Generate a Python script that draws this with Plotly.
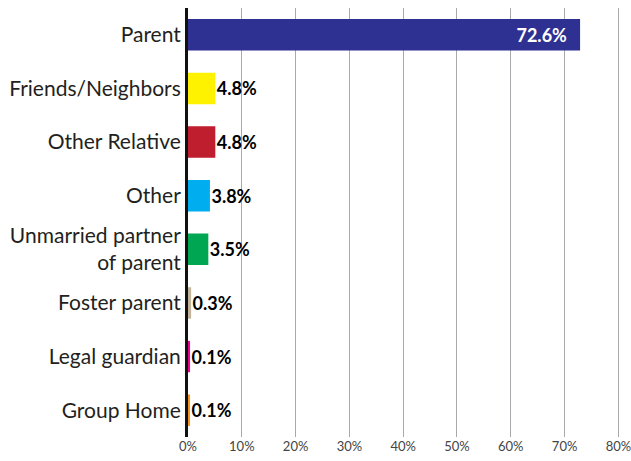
import plotly.graph_objects as go

categories = ["Parent", "Friends/Neighbors", "Other Relative", "Other",
              "Unmarried partner<br>of parent", "Foster parent", "Legal guardian", "Group Home"]
values = [72.6, 4.8, 4.8, 3.8, 3.5, 0.3, 0.1, 0.1]
colors = ["#2E3192", "#FFF200", "#BE1E2D", "#00AEEF", "#00A651", "#C2B59B", "#EC008C", "#F7941D"]
tick_vals = [0, 10, 20, 30, 40, 50, 60, 70, 80]
tick_text = ["0%", "10%", "20%", "30%", "40%", "50%", "60%", "70%", "80%"]

positions = ["inside" if v > 20 else "outside" for v in values]
text_colors = ["white" if v > 20 else "black" for v in values]
labels = [f"{v:.1f}%" + ("\u00a0\u00a0" if v > 20 else "") for v in values]

fig = go.Figure(go.Bar(
    x=values, y=categories, orientation="h",
    marker=dict(color=colors, line=dict(color=colors, width=3)),
    width=0.53,
    text=labels,
    textposition=positions,
    insidetextanchor="end",
    textfont=dict(family="Lato", size=18, color=text_colors, weight="bold"),
    constraintext="none",
    cliponaxis=False,
    hoverinfo="skip",
))

fig.update_layout(
    width=631, height=461,
    margin=dict(l=188, r=11, t=8, b=24),
    paper_bgcolor="white", plot_bgcolor="white",
    showlegend=False,
    font=dict(family="Lato", color="#231F20"),
    xaxis=dict(range=[0, 80.3], tickvals=tick_vals, ticktext=tick_text,
               showgrid=True, gridcolor="#A7A9AC", gridwidth=1,
               zeroline=False, showline=False, automargin=False,
               ticklabeloverflow="allow",
               tickfont=dict(size=13, color="#444444")),
    yaxis=dict(autorange="reversed", showline=True, linecolor="#111111", linewidth=3,
               showgrid=False, ticks="", automargin=False,
               tickfont=dict(size=21, color="#231F20")),
)

fig.write_html("out.html",
               config={"displayModeBar": False},
               post_script="document.body.style.margin='0';document.body.style.overflow='hidden';")
